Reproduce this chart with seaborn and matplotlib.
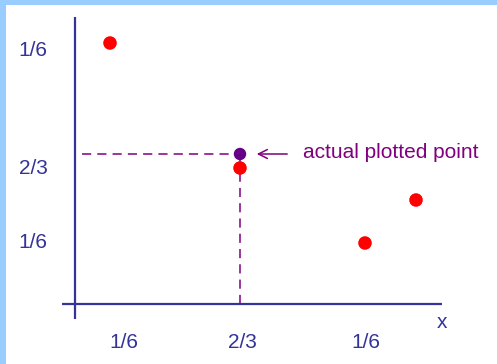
import matplotlib
matplotlib.use("Agg")
import matplotlib.pyplot as plt
from matplotlib.patches import Rectangle
import seaborn as sns
import pandas as pd

# data (1 unit ~ 10 px, origin where the axes cross)
red_x = [3.5, 16.5, 29.0, 34.1]
red_y = [26.1, 13.6, 6.1, 10.4]
plotted_x = [16.5]
plotted_y = [15.0]

xtick_pos = [4.9, 16.7, 29.1]
xtick_labels = ["1/6", "2/3", "1/6"]
ytick_pos = [25.3, 13.6, 6.1]
ytick_labels = ["1/6", "2/3", "1/6"]

note_text = "actual plotted point"

navy = "#333399"
purple = "#800080"
dot_purple = "#660088"
border = "#99CCFF"

sns.set_style("white")
plt.rcParams["font.family"] = ["Liberation Sans", "DejaVu Sans"]

fig = plt.figure(figsize=(4.97, 3.64), dpi=100)
fig.patch.set_facecolor("white")
ax = fig.add_axes([0, 0, 1, 1])
ax.set_xlim(-7.5, 42.2)
ax.set_ylim(-6.0, 30.4)
ax.axis("off")

# light blue frame on top and left
fig.patches.append(Rectangle((0, 1 - 5 / 364), 1, 5 / 364, transform=fig.transFigure,
                             facecolor=border, edgecolor="none", zorder=5))
fig.patches.append(Rectangle((0, 0), 6 / 497, 1, transform=fig.transFigure,
                             facecolor=border, edgecolor="none", zorder=5))

# axis lines
ax.plot([-1.3, 36.7], [0, 0], color=navy, lw=1.6, solid_capstyle="butt")
ax.plot([0, 0], [-1.5, 28.7], color=navy, lw=1.6, solid_capstyle="butt")

# dashed guide lines to the plotted point
ax.plot([0.7, plotted_x[0]], [plotted_y[0], plotted_y[0]], color=purple, lw=1.1,
        dashes=(6, 4))
ax.plot([plotted_x[0], plotted_x[0]], [0, plotted_y[0]], color=purple, lw=1.1,
        dashes=(6, 4))

df = pd.DataFrame({"x": red_x, "y": red_y})
sns.scatterplot(data=df, x="x", y="y", ax=ax, color="red", s=95,
                edgecolor="none", zorder=3)
sns.scatterplot(x=plotted_x, y=plotted_y, ax=ax, color=dot_purple, s=80,
                edgecolor="none", zorder=4)
ax.set_xlim(-7.5, 42.2)
ax.set_ylim(-6.0, 30.4)

# arrow and note
ax.annotate("", xy=(plotted_x[0] + 1.4, plotted_y[0]),
            xytext=(plotted_x[0] + 5.0, plotted_y[0]),
            arrowprops=dict(arrowstyle="->", color=purple, lw=1.1,
                            mutation_scale=16))
ax.text(plotted_x[0] + 6.3, plotted_y[0] + 0.1, note_text, color=purple,
        fontsize=15, ha="left", va="center")

# tick labels
for xp, lab in zip(xtick_pos, xtick_labels):
    ax.text(xp, -3.9, lab, color=navy, fontsize=15, ha="center", va="center")
for yp, lab in zip(ytick_pos, ytick_labels):
    ax.text(-4.2, yp, lab, color=navy, fontsize=15, ha="center", va="center")
ax.text(36.7, -1.9, "x", color=navy, fontsize=15, ha="center", va="center")

fig.savefig("out.png", dpi=100)
